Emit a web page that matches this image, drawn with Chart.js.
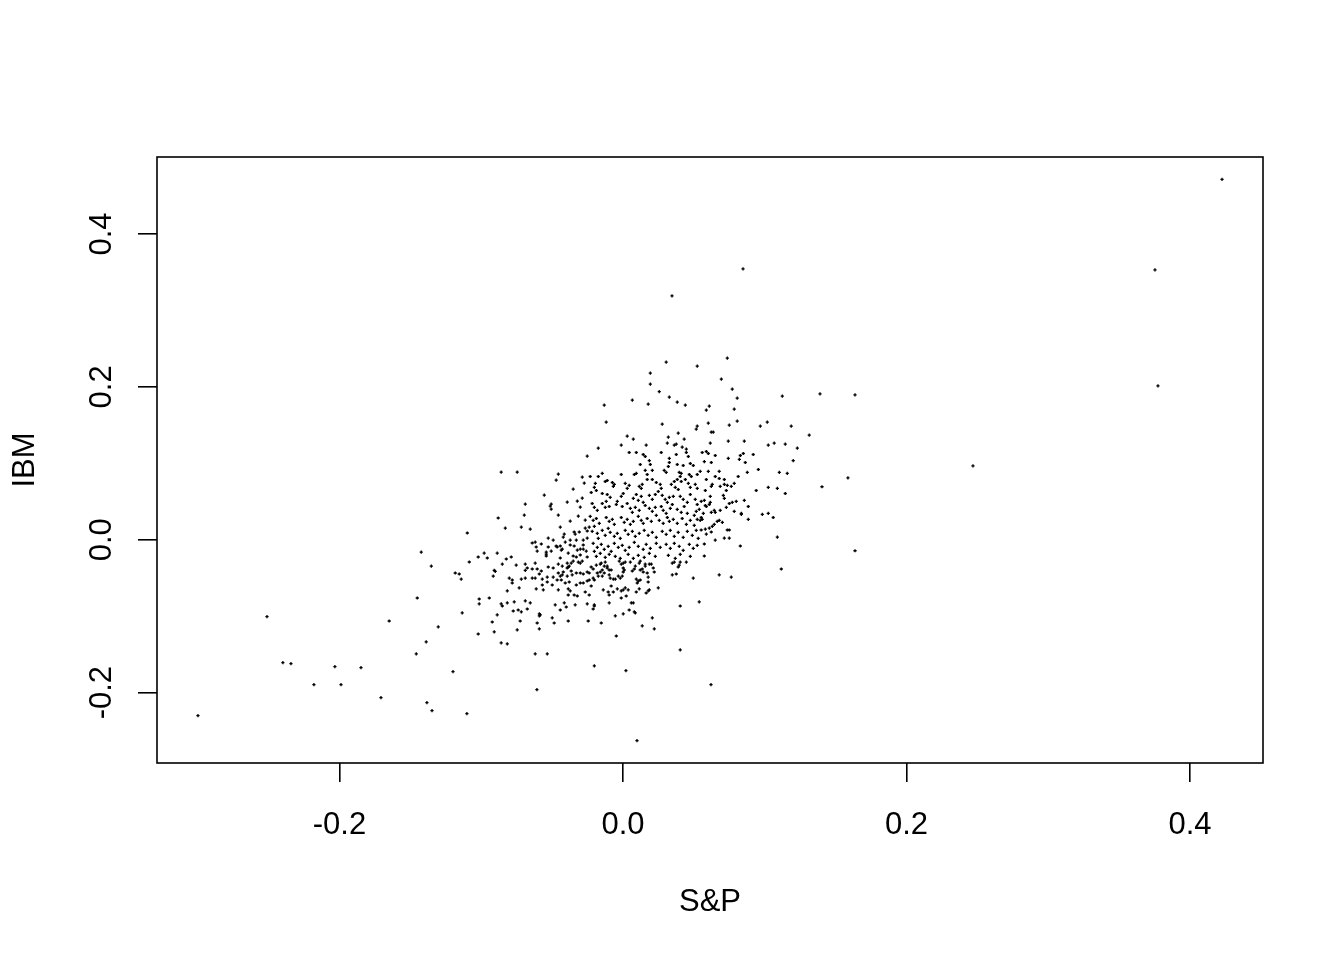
<!DOCTYPE html>
<html>
<head>
<meta charset="utf-8">
<script src="https://cdn.jsdelivr.net/npm/chart.js@4/dist/chart.umd.min.js"></script>
<style>
  html, body { margin: 0; padding: 0; background: #fff; }
  canvas { display: block; }
</style>
</head>
<body>
<canvas id="scatter" width="1344" height="960"></canvas>
<script>
// monthly returns (S&P on x, IBM on y)
const spReturns = [
  // upper part of the cloud
  0.0305, 0.0524, 0.0193, 0.0193, 0.0256, 0.0327, 0.0383, 0.0440, 0.0066, -0.0132,
  0.0178, -0.0118, 0.0277, 0.0524, 0.0517, 0.0390, 0.0030, 0.0073, 0.0320, 0.0432,
  -0.0012, 0.0164, 0.0313, 0.0362, 0.0376, 0.0418, -0.0174, 0.0447,
  0.0736, 0.0694, 0.0771, 0.0806, 0.1124, 0.0609, 0.0588, 0.0785, 0.0602, 0.0750,
  0.0806, 0.0969, 0.1018, 0.1187, 0.0623, 0.0637, 0.0616, 0.0743, 0.0856, 0.1025,
  0.1067, 0.1145, 0.1230, 0.1314,
  // outliers
  0.0847, 0.0346, 0.1390, 0.1637, 0.3753, 0.3774, 0.4226, 0.2469, 0.1637, 0.1587,
  0.1404, 0.0621, 0.0099, 0.0021, -0.0607, -0.2998, -0.2511, -0.2399, -0.2342, -0.2180,
  -0.2032, -0.1989, -0.1848, -0.1707, -0.1383, -0.1347, -0.1199, -0.1101,
  // lower left
  -0.1098, -0.1423, -0.1021, -0.1352, -0.1084, -0.1183, -0.1155, -0.1141, -0.1451, -0.1014,
  -0.1014, -0.1649, -0.1134, -0.1303, -0.1021, -0.1388, -0.1458,
  // left of centre
  -0.0252, -0.0859, -0.0746, -0.0456, -0.0471, -0.0287, -0.0273, -0.0351, -0.0555, -0.0287,
  -0.0322, -0.0393, -0.0689, -0.0506, -0.0513, -0.0506, -0.0301, -0.0696, -0.0456, -0.0315,
  -0.0880, -0.0372, -0.0266, -0.0830, -0.0717, -0.0654, -0.0442, -0.0266, -0.0252, -0.0238,
  -0.0344, -0.0308, -0.0337, -0.0414, -0.0421, -0.0527, -0.0492, -0.0372, -0.0329, -0.0280,
  -0.0252, -0.0640, -0.0619, -0.0576, -0.0407, -0.0442, -0.0428, -0.0435, -0.0471, -0.0464,
  -0.0372, -0.0344, -0.0322, -0.0301, -0.0280, -0.0280, -0.0259, -0.0612, -0.0605, -0.0541,
  -0.0541, -0.0541, -0.0506, -0.0527, -0.0386, -0.0351, -0.0329, -0.0442, -0.0979, -0.0887,
  -0.0957, -0.0823, -0.0788, -0.0301, -0.0252,
  // dense centre
  0.0044, 0.0094, 0.0143, 0.0157, 0.0270, 0.0376, 0.0447, 0.0461, 0.0122, 0.0186,
  0.0193, 0.0327, 0.0327, 0.0320, 0.0383, 0.0425, 0.0475, 0.0496, -0.0146, -0.0174,
  -0.0231, -0.0125, -0.0111, -0.0012, 0.0080, 0.0094, 0.0157, 0.0171, 0.0207, 0.0291,
  0.0305, 0.0397, 0.0404, 0.0411, 0.0468, 0.0482, 0.0524, -0.0195, -0.0202, -0.0188,
  -0.0224, -0.0075, -0.0061, -0.0068, 0.0016, 0.0044, 0.0030, 0.0115, 0.0129, 0.0136,
  0.0171, 0.0207, 0.0235, 0.0263, 0.0270, 0.0249, 0.0341, 0.0362, 0.0383, 0.0369,
  0.0390, 0.0411, 0.0440, 0.0461, 0.0475, 0.0510, 0.0524, -0.0146, -0.0111, -0.0090,
  -0.0118, -0.0012, 0.0002, -0.0040, 0.0073, 0.0094, 0.0108, 0.0129, 0.0143, 0.0186,
  0.0207, 0.0228, 0.0277, 0.0298, 0.0313, 0.0327, 0.0355, 0.0404, 0.0425, 0.0454,
  0.0475, 0.0510, 0.0524, 0.0538, -0.0217, -0.0202, -0.0181, -0.0146, -0.0125, -0.0097,
  -0.0047, -0.0005, 0.0030, 0.0052, 0.0066, 0.0087, 0.0115, 0.0157, 0.0186, 0.0207,
  0.0228, 0.0270, 0.0284, 0.0305, 0.0334, 0.0348, 0.0383, 0.0411, 0.0432, 0.0454,
  0.0503, 0.0517, -0.0231, -0.0210, -0.0188, -0.0167, -0.0202, -0.0118, -0.0097, -0.0075,
  -0.0061, -0.0104, -0.0012, 0.0009, 0.0030, 0.0052, 0.0073, 0.0108, 0.0129, 0.0143,
  0.0171, 0.0200, 0.0235, 0.0256, 0.0284, 0.0313, 0.0327, 0.0355, 0.0383, 0.0418,
  0.0447, 0.0475, 0.0503, 0.0524, -0.0217, -0.0181, -0.0146, -0.0125, -0.0174, -0.0090,
  -0.0061, -0.0040, -0.0019, 0.0016, 0.0037, 0.0066, 0.0087, 0.0115, 0.0150, 0.0178,
  0.0207, 0.0235, 0.0277, 0.0305, 0.0334, 0.0362, 0.0390, 0.0425, 0.0454, 0.0489,
  0.0517, 0.0531, -0.0210, -0.0181, -0.0153, -0.0132, -0.0104, -0.0083, -0.0202, -0.0061,
  -0.0033, -0.0005, 0.0016, 0.0044, 0.0080, 0.0108, 0.0143, 0.0164, 0.0193, 0.0235,
  0.0263, 0.0305, 0.0334, 0.0362, 0.0397, 0.0425, 0.0468, 0.0496, 0.0524, -0.0188,
  -0.0160, -0.0125, -0.0097, -0.0054, -0.0019, 0.0037, 0.0073, 0.0108, 0.0150, 0.0186,
  0.0228, 0.0320, 0.0369, 0.0404, 0.0475,
  // right of centre
  0.0559, 0.0588, 0.0602, 0.0651, 0.0743, 0.0828, 0.0849, 0.0821, 0.0863, 0.0919,
  0.1201, 0.0574, 0.0623, 0.0545, 0.0602, 0.0679, 0.0651, 0.0679, 0.0715, 0.0813,
  0.0877, 0.0955, 0.1103, 0.1159, 0.0588, 0.0630, 0.0623, 0.0686, 0.0715, 0.0736,
  0.0764, 0.0785, 0.0581, 0.0729, 0.0940, 0.1025, 0.1089, 0.1145, 0.0616, 0.0708,
  0.0715, 0.0552, 0.0574, 0.0616, 0.0609, 0.0581, 0.0588, 0.0750, 0.0771, 0.0799,
  0.0856, 0.0729, 0.0884, 0.0644, 0.0651, 0.0686, 0.0623, 0.0785, 0.0835, 0.0835,
  0.0567, 0.0983, 0.1025, 0.1060, 0.0884, 0.0552, 0.0559, 0.0545, 0.0665, 0.0679,
  0.0701, 0.0644, 0.0630, 0.0552, 0.0581, 0.0609, 0.0623, 0.0588, 0.0736, 0.0750,
  0.0715, 0.0750, 0.0651, 0.1089, 0.0574, 0.0828, 0.0574,
  // below left of centre
  -0.0851, -0.0753, -0.0689, -0.0619, -0.0689, -0.0675, -0.0640, -0.0605, -0.0576, -0.0527,
  -0.0492, -0.0456, -0.0428, -0.0393, -0.0379, -0.0365, -0.0351, -0.0315, -0.0287, -0.0301,
  -0.0908, -0.0901, -0.0915, -0.0802, -0.0781, -0.0781, -0.0717, -0.0689, -0.0640, -0.0619,
  -0.0590, -0.0569, -0.0534, -0.0492, -0.0456, -0.0442, -0.0428, -0.0421, -0.0393, -0.0386,
  -0.0365, -0.0393, -0.0358, -0.0329, -0.0301, -0.0280, -0.0252, -0.0238, -0.0464, -0.0435,
  -0.0407, -0.0379, -0.0329, -0.0301, -0.0280, -0.0252, -0.0238, -0.0569, -0.0534, -0.0499,
  -0.0732, -0.0612, -0.0562, -0.0456, -0.0386, -0.0372, -0.0344, -0.0322, -0.0386, -0.0266,
  -0.0238, -0.0816, -0.0943, -0.0859, -0.0851, -0.0816, -0.0767, -0.0689, -0.0654, -0.0774,
  -0.0739, -0.0717, -0.0675, -0.0590, -0.0583, -0.0590, -0.0478, -0.0442, -0.0414, -0.0400,
  -0.0337, -0.0252, -0.0887, -0.0922, -0.0725, -0.0605, -0.0499, -0.0485, -0.0386, -0.0245,
  -0.0908, -0.0746, -0.0590, -0.0859, -0.0816, -0.0619, -0.0534,
  // below centre
  -0.0224, -0.0210, -0.0188, -0.0160, -0.0153, -0.0125, -0.0132, -0.0111, -0.0181, -0.0160,
  -0.0146, -0.0132, -0.0111, -0.0097, -0.0083, -0.0210, -0.0202, -0.0174, -0.0146, -0.0097,
  -0.0090, -0.0068, -0.0054, -0.0026, -0.0012, 0.0002, 0.0016, 0.0002, 0.0009, 0.0002,
  0.0052, 0.0087, 0.0115, 0.0122, 0.0136, 0.0157, 0.0157, 0.0186, 0.0200, 0.0214,
  0.0221, 0.0066, 0.0080, 0.0122, 0.0143, 0.0171, 0.0178, -0.0033, -0.0019, -0.0005,
  0.0094, 0.0108, 0.0122, 0.0101, 0.0178, -0.0224, -0.0139, -0.0104, -0.0097, -0.0083,
  -0.0068, -0.0040, -0.0012, 0.0002, 0.0016, 0.0037, -0.0012, 0.0023, 0.0094, 0.0115,
  0.0164, 0.0178, 0.0186, 0.0249, 0.0348, 0.0362, 0.0390, 0.0397, 0.0404, 0.0447,
  0.0348, 0.0376, 0.0496, -0.0097, 0.0059, 0.0073, -0.0202, -0.0202, -0.0210, 0.0044,
  0.0080, 0.0087, 0.0002, -0.0054, 0.0207, -0.0153, 0.0136, 0.0221, -0.0047, 0.0404,
  0.0404, -0.0202,
  // below right of centre
  0.0538, 0.0679, 0.0764, 0.1117
];

const ibmReturns = [
  // upper part of the cloud
  0.2323, 0.2270, 0.2179, 0.2035, 0.1938, 0.1865, 0.1800, 0.1761, 0.1826, 0.1761,
  0.1774, 0.1538, 0.1512, 0.1486, 0.1447, 0.1395, 0.1355, 0.1316, 0.1342, 0.1316,
  0.1238, 0.1238, 0.1264, 0.1238, 0.1251, 0.1212, 0.1199, 0.1185,
  0.2375, 0.2100, 0.1970, 0.1852, 0.1878, 0.1747, 0.1695, 0.1708, 0.1525, 0.1499,
  0.1551, 0.1486, 0.1538, 0.1486, 0.1408, 0.1408, 0.1264, 0.1290, 0.1290, 0.1238,
  0.1264, 0.1251, 0.1199, 0.1368,
  // outliers
  0.3542, 0.3189, 0.1908, 0.1895, 0.3529, 0.2013, 0.4713, 0.0967, -0.0144, 0.0810,
  0.0693, -0.1895, -0.2627, -0.1712, -0.1961, -0.2300, -0.1006, -0.1608, -0.1621, -0.1895,
  -0.1660, -0.1895, -0.1673, -0.2065, -0.2130, -0.2235, -0.1725, -0.2274,
  // lower left
  0.0088, -0.0161, -0.0226, -0.0344, -0.0291, -0.0435, -0.0448, -0.0514, -0.0762, -0.0775,
  -0.0840, -0.1063, -0.0958, -0.1141, -0.1233, -0.1337, -0.1494,
  // left of centre
  0.1094, 0.0885, 0.0885, 0.0859, 0.0780, 0.0819, 0.0741, 0.0663, 0.0584, 0.0545,
  0.0506, 0.0493, 0.0467, 0.0467, 0.0440, 0.0401, 0.0427, 0.0323, 0.0323, 0.0310,
  0.0284, 0.0244, 0.0257, 0.0153, 0.0166, 0.0140, 0.0166, 0.0153, 0.0114, 0.0166,
  0.0101, 0.0101, 0.0074, 0.0074, 0.0035, 0.0022, -0.0004, -0.0004, -0.0004, -0.0004,
  0.0022, -0.0043, -0.0030, -0.0056, -0.0030, -0.0082, -0.0122, -0.0135, -0.0082, -0.0095,
  -0.0069, -0.0082, -0.0135, -0.0122, -0.0069, -0.0122, -0.0148, -0.0095, -0.0148, -0.0161,
  -0.0187, -0.0213, -0.0148, -0.0095, -0.0174, -0.0213, -0.0226, -0.0239, -0.0174, -0.0174,
  -0.0239, -0.0252, -0.0226, -0.0200, -0.0226,
  // dense centre
  0.1141, 0.1141, 0.1115, 0.1089, 0.1141, 0.1115, 0.1141, 0.1089, 0.0984, 0.1036,
  0.0984, 0.1063, 0.1010, 0.0958, 0.0984, 0.0971, 0.0997, 0.0971, 0.0867, 0.0827,
  0.0827, 0.0762, 0.0775, 0.0853, 0.0853, 0.0867, 0.0906, 0.0853, 0.0906, 0.0906,
  0.0880, 0.0880, 0.0827, 0.0867, 0.0853, 0.0827, 0.0853, 0.0736, 0.0684, 0.0644,
  0.0618, 0.0749, 0.0723, 0.0697, 0.0736, 0.0710, 0.0671, 0.0697, 0.0671, 0.0723,
  0.0788, 0.0788, 0.0749, 0.0723, 0.0671, 0.0631, 0.0723, 0.0762, 0.0788, 0.0684,
  0.0657, 0.0762, 0.0788, 0.0736, 0.0684, 0.0723, 0.0671, 0.0605, 0.0592, 0.0553,
  0.0501, 0.0566, 0.0605, 0.0501, 0.0540, 0.0592, 0.0514, 0.0566, 0.0488, 0.0579,
  0.0527, 0.0592, 0.0579, 0.0527, 0.0488, 0.0553, 0.0566, 0.0566, 0.0527, 0.0488,
  0.0592, 0.0527, 0.0461, 0.0396, 0.0474, 0.0422, 0.0383, 0.0474, 0.0422, 0.0435,
  0.0461, 0.0435, 0.0474, 0.0409, 0.0357, 0.0422, 0.0383, 0.0448, 0.0409, 0.0370,
  0.0422, 0.0435, 0.0383, 0.0344, 0.0409, 0.0461, 0.0396, 0.0357, 0.0435, 0.0344,
  0.0318, 0.0370, 0.0305, 0.0252, 0.0278, 0.0213, 0.0174, 0.0291, 0.0239, 0.0265,
  0.0200, 0.0148, 0.0291, 0.0226, 0.0265, 0.0200, 0.0239, 0.0305, 0.0252, 0.0213,
  0.0278, 0.0239, 0.0318, 0.0252, 0.0213, 0.0291, 0.0239, 0.0265, 0.0213, 0.0278,
  0.0200, 0.0252, 0.0187, 0.0265, 0.0109, 0.0082, 0.0122, 0.0056, 0.0017, 0.0095,
  0.0043, 0.0082, 0.0017, 0.0122, 0.0069, 0.0109, 0.0043, 0.0082, 0.0122, 0.0056,
  0.0095, 0.0030, 0.0109, 0.0069, 0.0122, 0.0043, 0.0095, 0.0030, 0.0109, 0.0056,
  0.0122, 0.0017, -0.0048, -0.0101, -0.0061, -0.0127, -0.0088, -0.0153, -0.0153, -0.0048,
  -0.0101, -0.0075, -0.0140, -0.0101, -0.0035, -0.0088, -0.0127, -0.0061, -0.0114, -0.0048,
  -0.0101, -0.0061, -0.0114, -0.0048, -0.0088, -0.0140, -0.0061, -0.0114, -0.0075, -0.0218,
  -0.0179, -0.0231, -0.0192, -0.0218, -0.0244, -0.0192, -0.0244, -0.0205, -0.0231, -0.0179,
  -0.0218, -0.0205, -0.0244, -0.0192, -0.0218,
  // right of centre
  0.1141, 0.1154, 0.1128, 0.1102, 0.1063, 0.1102, 0.1128, 0.1050, 0.1010, 0.1115,
  0.1036, 0.1023, 0.1010, 0.0893, 0.0893, 0.0893, 0.0827, 0.0801, 0.0788, 0.0827,
  0.0880, 0.0919, 0.0880, 0.0867, 0.0788, 0.0723, 0.0697, 0.0697, 0.0723, 0.0710,
  0.0697, 0.0736, 0.0644, 0.0644, 0.0644, 0.0684, 0.0671, 0.0605, 0.0566, 0.0579,
  0.0540, 0.0501, 0.0514, 0.0488, 0.0461, 0.0448, 0.0435, 0.0474, 0.0488, 0.0501,
  0.0514, 0.0422, 0.0435, 0.0383, 0.0357, 0.0383, 0.0357, 0.0370, 0.0344, 0.0331,
  0.0344, 0.0331, 0.0344, 0.0291, 0.0265, 0.0291, 0.0265, 0.0252, 0.0239, 0.0252,
  0.0226, 0.0200, 0.0174, 0.0127, 0.0140, 0.0153, 0.0101, 0.0074, 0.0127, 0.0127,
  0.0022, 0.0022, -0.0004, 0.0035, -0.0056, -0.0082, -0.0213,
  // below left of centre
  -0.0318, -0.0331, -0.0318, -0.0305, -0.0401, -0.0370, -0.0383, -0.0383, -0.0409, -0.0357,
  -0.0370, -0.0318, -0.0344, -0.0305, -0.0344, -0.0305, -0.0279, -0.0292, -0.0279, -0.0305,
  -0.0401, -0.0414, -0.0475, -0.0501, -0.0527, -0.0566, -0.0514, -0.0501, -0.0501, -0.0501,
  -0.0448, -0.0514, -0.0488, -0.0488, -0.0435, -0.0475, -0.0461, -0.0422, -0.0370, -0.0357,
  -0.0409, -0.0475, -0.0461, -0.0435, -0.0435, -0.0448, -0.0422, -0.0435, -0.0527, -0.0527,
  -0.0566, -0.0553, -0.0592, -0.0566, -0.0566, -0.0540, -0.0527, -0.0592, -0.0553, -0.0592,
  -0.0631, -0.0644, -0.0657, -0.0657, -0.0644, -0.0670, -0.0723, -0.0736, -0.0723, -0.0684,
  -0.0723, -0.0670, -0.0762, -0.0840, -0.0867, -0.0827, -0.0814, -0.0801, -0.0827, -0.0932,
  -0.0919, -0.0945, -0.0906, -0.0971, -0.0984, -0.0997, -0.0853, -0.0919, -0.0827, -0.0880,
  -0.0853, -0.0840, -0.0984, -0.1076, -0.1063, -0.1089, -0.1023, -0.1089, -0.1063, -0.1063,
  -0.1206, -0.1180, -0.1167, -0.1350, -0.1363, -0.1494, -0.1494,
  // below centre
  -0.0357, -0.0383, -0.0331, -0.0318, -0.0305, -0.0292, -0.0344, -0.0344, -0.0435, -0.0422,
  -0.0396, -0.0435, -0.0370, -0.0396, -0.0396, -0.0501, -0.0527, -0.0475, -0.0475, -0.0461,
  -0.0501, -0.0514, -0.0514, -0.0279, -0.0318, -0.0305, -0.0292, -0.0370, -0.0396, -0.0422,
  -0.0292, -0.0344, -0.0305, -0.0279, -0.0383, -0.0318, -0.0344, -0.0318, -0.0318, -0.0370,
  -0.0422, -0.0409, -0.0383, -0.0396, -0.0422, -0.0435, -0.0488, -0.0475, -0.0501, -0.0475,
  -0.0514, -0.0540, -0.0527, -0.0566, -0.0553, -0.0605, -0.0657, -0.0684, -0.0723, -0.0605,
  -0.0684, -0.0644, -0.0670, -0.0657, -0.0631, -0.0657, -0.0762, -0.0736, -0.0684, -0.0644,
  -0.0697, -0.0670, -0.0657, -0.0631, -0.0305, -0.0292, -0.0357, -0.0331, -0.0292, -0.0292,
  -0.0461, -0.0448, -0.0501, -0.0827, -0.0827, -0.0827, -0.0853, -0.0867, -0.0906, -0.0919,
  -0.0945, -0.0958, -0.0971, -0.0997, -0.1023, -0.1089, -0.1128, -0.1167, -0.1259, -0.0867,
  -0.1442, -0.1651,
  // below right of centre
  -0.0814, -0.0461, -0.0488, -0.0383
];

const xTicks = [-0.2, 0.0, 0.2, 0.4];
const yTicks = [-0.2, 0.0, 0.2, 0.4];
const xTitle = "S&P";
const yTitle = "IBM";

const FONT = '31px "Liberation Sans", Arial, sans-serif';

// R pads the data range by 4% on each side
function paddedRange(values) {
  const lo = Math.min(...values);
  const hi = Math.max(...values);
  const pad = (hi - lo) * 0.04;
  return [lo - pad, hi + pad];
}

const xRange = paddedRange(spReturns);
const yRange = paddedRange(ibmReturns);

const points = spReturns.map((x, i) => ({ x: x, y: ibmReturns[i] }));

// box, tick labels and axis titles in the style of base R graphics
const rFrame = {
  id: "rFrame",
  afterDraw(chart) {
    const { ctx, chartArea: a, scales } = chart;
    ctx.save();
    ctx.strokeStyle = "#000";
    ctx.lineWidth = 1.6;
    ctx.strokeRect(a.left, a.top, a.right - a.left, a.bottom - a.top);

    ctx.fillStyle = "#000";
    ctx.font = FONT;
    ctx.textAlign = "center";
    ctx.textBaseline = "alphabetic";
    xTicks.forEach(function (v) {
      ctx.fillText(v.toFixed(1), scales.x.getPixelForValue(v), a.bottom + 71);
    });
    ctx.fillText(xTitle, (a.left + a.right) / 2, a.bottom + 148);

    yTicks.forEach(function (v) {
      ctx.save();
      ctx.translate(a.left - 46, scales.y.getPixelForValue(v));
      ctx.rotate(-Math.PI / 2);
      ctx.fillText(v.toFixed(1), 0, 0);
      ctx.restore();
    });
    ctx.save();
    ctx.translate(a.left - 123, (a.top + a.bottom) / 2);
    ctx.rotate(-Math.PI / 2);
    ctx.fillText(yTitle, 0, 0);
    ctx.restore();
    ctx.restore();
  }
};

const tickGrid = {
  drawOnChartArea: false,
  drawTicks: true,
  tickLength: 19,
  color: "#000",
  lineWidth: 1.6
};

new Chart(document.getElementById("scatter").getContext("2d"), {
  type: "scatter",
  data: {
    datasets: [
      {
        label: "IBM vs S&P",
        data: points,
        pointStyle: "cross",
        pointRadius: 1.6,
        pointHoverRadius: 1.6,
        borderWidth: 1.3,
        borderColor: "#000",
        backgroundColor: "#000"
      }
    ]
  },
  options: {
    responsive: false,
    animation: false,
    devicePixelRatio: 1,
    layout: { padding: { top: 157, right: 81, left: 0, bottom: 0 } },
    plugins: {
      legend: { display: false },
      tooltip: { enabled: false }
    },
    scales: {
      x: {
        type: "linear",
        min: xRange[0],
        max: xRange[1],
        afterBuildTicks: function (scale) {
          scale.ticks = xTicks.map((v) => ({ value: v }));
        },
        afterFit: function (scale) {
          scale.height = 197;
        },
        ticks: { display: false },
        grid: tickGrid,
        border: { display: false }
      },
      y: {
        type: "linear",
        min: yRange[0],
        max: yRange[1],
        afterBuildTicks: function (scale) {
          scale.ticks = yTicks.map((v) => ({ value: v }));
        },
        afterFit: function (scale) {
          scale.width = 157;
        },
        ticks: { display: false },
        grid: tickGrid,
        border: { display: false }
      }
    }
  },
  plugins: [rFrame]
});
</script>
</body>
</html>
